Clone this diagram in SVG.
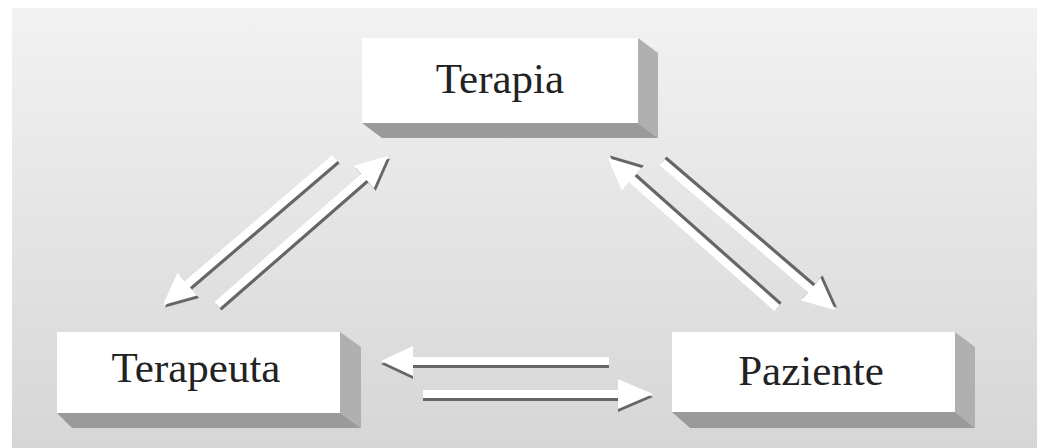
<svg xmlns="http://www.w3.org/2000/svg" xmlns:xlink="http://www.w3.org/1999/xlink" width="1043" height="448" viewBox="0 0 1043 448">
  <style>
    .face{fill:#ffffff}
    .side{fill:#b0b0b0}
    .bottom{fill:#9a9a9a}
    .label{font-family:"Liberation Serif","Times New Roman",serif;font-size:43px;fill:#222222;text-anchor:middle}
  </style>
  <defs>
    <linearGradient id="bg" x1="0" y1="0" x2="0" y2="1">
      <stop offset="0" stop-color="#f2f2f2"/>
      <stop offset="1" stop-color="#d6d6d6"/>
    </linearGradient>
    <polygon id="arrL" points="609,357 413,357 413,346 381,361 413,376 413,365 609,365"/>
    <polygon id="arrR" points="423,390 618,390 618,379 653,394 618,409 618,398 423,398"/>
    <polygon id="arrA" points="332.4,155.0 184.7,281.2 177.5,272.8 163,305 197.1,295.6 189.9,287.2 337.6,161.0"/>
    <polygon id="arrB" points="214.4,302.0 361.3,174.0 354.0,165.7 388,156 373.8,188.3 366.5,180.0 219.6,308.0"/>
    <polygon id="arrC" points="774.3,311.0 629.2,182.2 621.9,190.4 608,158 641.9,168.0 634.6,176.2 779.7,305.0"/>
    <polygon id="arrD" points="659.4,165.0 808.1,292.2 800.9,300.6 835,310 820.5,277.8 813.3,286.2 664.6,159.0"/>
  </defs>

  <rect x="0" y="0" width="1043" height="448" fill="#ffffff"/>
  <rect x="12" y="8" width="1025" height="440" fill="url(#bg)"/>

  <g id="connectors">
    <use xlink:href="#arrA" fill="#666666" transform="translate(2,2.5)"/>
    <use xlink:href="#arrA" fill="#ffffff"/>
    <use xlink:href="#arrB" fill="#666666" transform="translate(2,2.5)"/>
    <use xlink:href="#arrB" fill="#ffffff"/>
    <use xlink:href="#arrC" fill="#666666" transform="translate(2,-2.5)"/>
    <use xlink:href="#arrC" fill="#ffffff"/>
    <use xlink:href="#arrD" fill="#666666" transform="translate(2,-2.5)"/>
    <use xlink:href="#arrD" fill="#ffffff"/>
    <use xlink:href="#arrL" fill="#666666" transform="translate(0,3)"/>
    <use xlink:href="#arrL" fill="#ffffff"/>
    <use xlink:href="#arrR" fill="#666666" transform="translate(0,3)"/>
    <use xlink:href="#arrR" fill="#ffffff"/>
  </g>

  <g id="terapia">
    <polygon class="side" points="638,38 658,53 658,138 638,123"/>
    <polygon class="bottom" points="362,123 638,123 658,138 382,138"/>
    <rect class="face" x="362" y="38" width="276" height="85"/>
    <text class="label" x="500" y="93">Terapia</text>
  </g>

  <g id="terapeuta">
    <polygon class="side" points="340,332 361,347 361,428 340,413"/>
    <polygon class="bottom" points="57,413 340,413 361,428 72,428"/>
    <rect class="face" x="57" y="332" width="283" height="81"/>
    <text class="label" x="196" y="382">Terapeuta</text>
  </g>

  <g id="paziente">
    <polygon class="side" points="955,332 975,347 975,428 955,412"/>
    <polygon class="bottom" points="672,412 955,412 975,428 690,428"/>
    <rect class="face" x="672" y="332" width="283" height="80"/>
    <text class="label" x="811" y="385">Paziente</text>
  </g>
</svg>
